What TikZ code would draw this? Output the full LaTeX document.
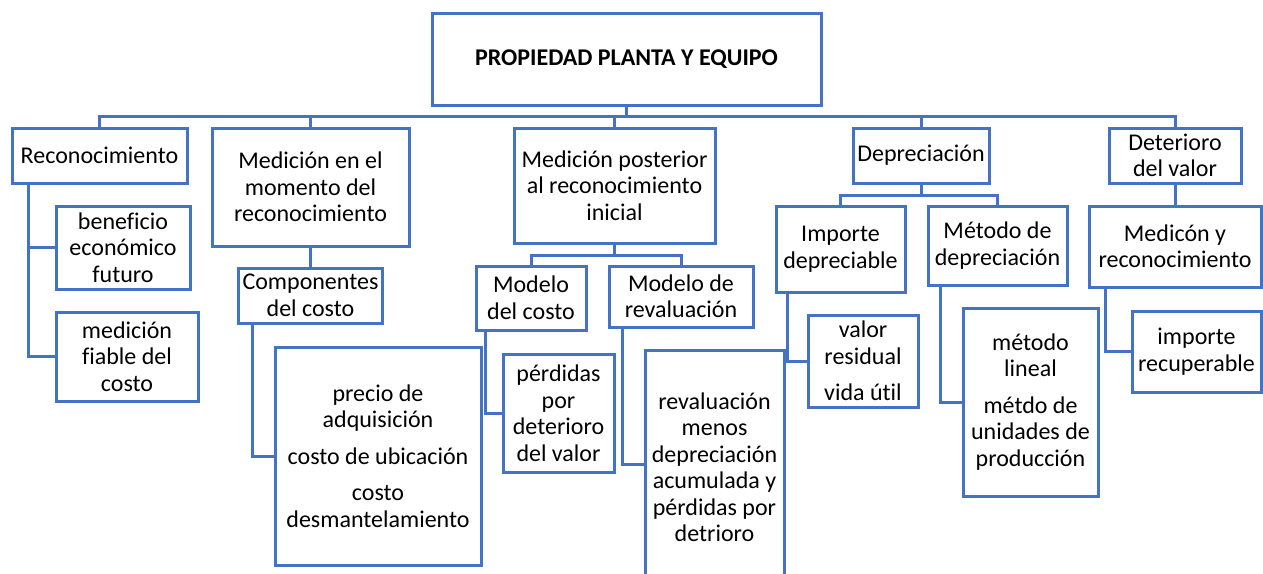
\documentclass[tikz,border=0pt]{standalone}
\usepackage{fontspec}
\setmainfont{Carlito}[Ligatures=NoCommon]
\usepackage{tikz}
\definecolor{ppblue}{HTML}{4472C4}

\begin{document}
\begin{tikzpicture}[x=0.5pt,y=-0.5pt,
	box/.style 2 args={draw=ppblue, line width=1.5pt, align=center, inner sep=2pt,
		minimum width=#1, minimum height=#2, font=\fontsize{12}{13.25}\selectfont},
	con/.style={draw=ppblue, line width=1.5pt}]
\useasboundingbox (0,0) rectangle (1263,573);
\clip (0,0) rectangle (1263,573);
\node[box={194.5pt}{46pt}] (top) at (626.5,59) {\textbf{PROPIEDAD PLANTA Y EQUIPO}};
% first row
\node[box={87.5pt}{27.5pt}] (rec) at (99.5,155.5) {Reconocimiento};
\node[box={98.5pt}{59pt}] (medm) at (310.5,187) {Medición en el\\momento del\\reconocimiento};
\node[box={100.5pt}{57.5pt}] (medp) at (614.5,185.5) {Medición posterior\\al reconocimiento\\inicial};
\node[box={68pt}{27.5pt}] (dep) at (921,155.5) {Depreciación};
\node[box={66pt}{27.5pt}] (det) at (1175,155.5) {Deterioro\\del valor};
% second row
\node[box={67pt}{41.5pt}] (ben) at (123,247.5) {beneficio\\económico\\futuro};
\node[box={71pt}{44.5pt}] (fia) at (127,356.5) {medición\\fiable del\\costo};
\node[box={71.5pt}{27.5pt}] (comp) at (310.5,295.5) {Componentes\\del costo};
\node[box={103pt}{109pt}] (prec) at (378,456) {precio de\\adquisición\\[5pt]costo de ubicación\\[5pt]costo\\desmantelamiento};
\node[box={55pt}{32pt}] (mc) at (531,298) {Modelo\\del costo};
\node[box={72pt}{30.5pt}] (mr) at (681,296.5) {Modelo de\\revaluación};
\node[box={55.5pt}{59pt}] (perd) at (558.5,413) {pérdidas\\por\\deterioro\\del valor};
\node[box={69.5pt}{117pt}] (rev) at (714.5,467) {revaluación\\menos\\depreciación\\acumulada y\\pérdidas por\\detrioro};
\node[box={64.5pt}{43pt}] (imp) at (840.5,249) {Importe\\depreciable};
\node[box={69.5pt}{39.5pt}] (met) at (997.5,245.5) {Método de\\depreciación};
\node[box={86pt}{40.5pt}] (medi) at (1175,246.5) {Medicón y\\reconocimiento};
\node[box={55pt}{46pt}] (val) at (863,361) {valor\\residual\\[5pt]vida útil};
\node[box={67.5pt}{94pt}] (lin) at (1030.5,402) {método\\lineal\\[5pt]métdo de\\unidades de\\producción};
\node[box={64.5pt}{40.5pt}] (recu) at (1196.5,351.5) {importe\\recuperable};
% bus from the title
\coordinate (bus) at (0,116);
\draw[con] (top.south) -- (top.south |- bus);
\foreach \n in {rec,medm,medp,dep,det}
	\draw[con] (\n.north) |- (top.south |- bus);
\draw[con] (medm.south) -- (comp.north);
\draw[con] (det.south) -- (medi.north);
\draw[con] (mc.north) |- ([yshift=-5.5pt]medp.south) -| (mr.north);
\draw[con] (medp.south) -- ++(0,11);
\draw[con] (imp.north) |- ([yshift=-5.5pt]dep.south) -| (met.north);
\draw[con] (dep.south) -- ++(0,11);
% side branches
\draw[con] ([xshift=9pt]rec.south west) |- (ben.west);
\draw[con] ([xshift=9pt]rec.south west) |- (fia.west);
\draw[con] ([xshift=7.5pt]comp.south west) |- (prec.west);
\draw[con] ([xshift=5.5pt]mc.south west) |- (perd.west);
\draw[con] ([xshift=7.5pt]mr.south west) |- ([yshift=1.5pt]rev.west);
\draw[con] ([xshift=6.5pt]imp.south west) |- (val.west);
\draw[con] ([xshift=7pt]met.south west) |- (lin.west);
\draw[con] ([xshift=9pt]medi.south west) |- (recu.west);
\end{tikzpicture}
\end{document}
